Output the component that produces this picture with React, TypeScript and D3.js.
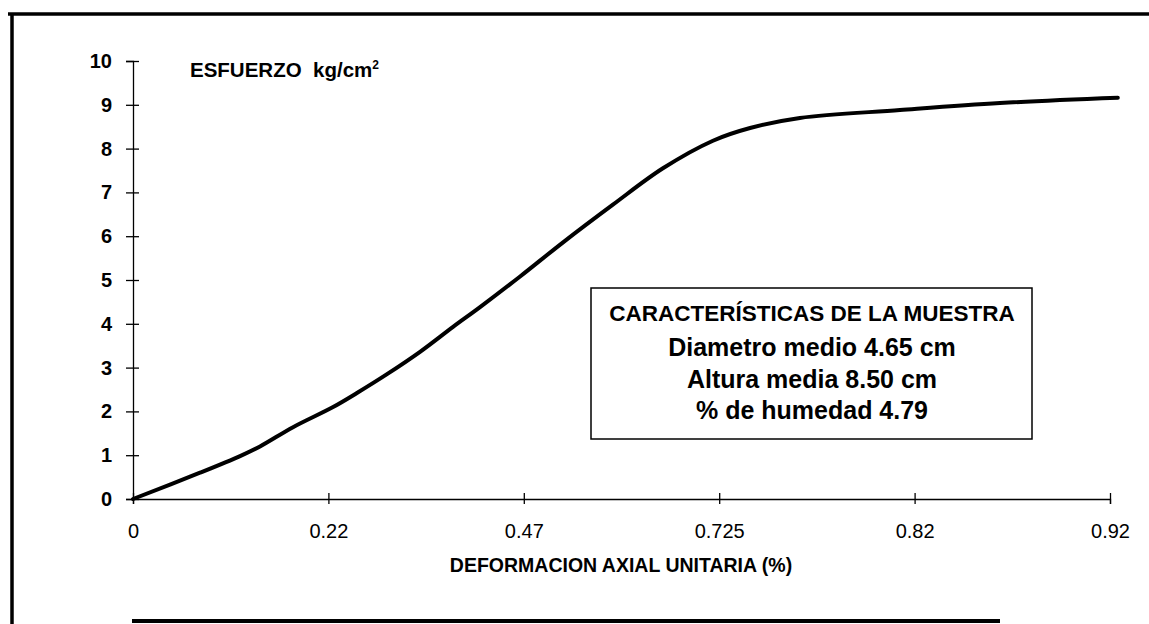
import { useEffect, useRef } from "react";
import * as d3 from "d3";

// category labels on the x axis (evenly spaced, Excel-like category axis)
const strainLabels = ["0", "0.22", "0.47", "0.725", "0.82", "0.92"];
// curve samples: position along the category axis (in category steps) and stress value
const strainPos = [0, 0.343, 0.548, 0.65, 0.819, 1.024, 1.146, 1.3, 1.469, 1.638, 1.776, 1.981, 2.201, 2.456, 2.712, 2.968, 3.158, 3.413, 3.925, 4.437, 5.04];
const stressVals = [0, 0.6, 0.98, 1.2, 1.64, 2.1, 2.42, 2.85, 3.36, 3.93, 4.38, 5.08, 5.86, 6.72, 7.55, 8.18, 8.47, 8.7, 8.88, 9.04, 9.16];
const stressTicks = [0, 1, 2, 3, 4, 5, 6, 7, 8, 9, 10];
const sampleInfo = [
  "CARACTERÍSTICAS DE LA MUESTRA",
  "Diametro medio 4.65 cm",
  "Altura media 8.50 cm",
  "% de humedad 4.79",
];

export default function App() {
  const svgRef = useRef(null);
  const svgWidth = 1149;
  const svgHeight = 624;

  useEffect(() => {
    const svg = d3.select(svgRef.current);
    svg.selectAll("*").remove();
    const font = "'Liberation Sans', Arial, sans-serif";

    const x = d3.scaleLinear().domain([0, strainLabels.length - 1]).range([133, 1110]);
    const y = d3.scaleLinear().domain([0, 10]).range([499, 61]);

    svg.append("rect").attr("width", svgWidth).attr("height", svgHeight).attr("fill", "#fff");

    // scanned frame
    svg.append("line").attr("x1", 8).attr("x2", svgWidth).attr("y1", 14).attr("y2", 14)
      .attr("stroke", "#000").attr("stroke-width", 3.5);
    svg.append("line").attr("x1", 12).attr("x2", 12).attr("y1", 13).attr("y2", svgHeight)
      .attr("stroke", "#000").attr("stroke-width", 3.5);
    svg.append("line").attr("x1", 132).attr("x2", 1000).attr("y1", 621).attr("y2", 621)
      .attr("stroke", "#000").attr("stroke-width", 4);

    // y axis
    const yAxis = d3.axisLeft(y).tickValues(stressTicks).tickSize(7).tickPadding(14);
    const gy = svg.append("g").attr("transform", `translate(${x(0)},0)`).call(yAxis);
    gy.select(".domain").attr("stroke", "#000").attr("stroke-width", 1.3);
    gy.selectAll(".tick line").attr("x1", 6).attr("stroke", "#000").attr("stroke-width", 1.3);
    gy.selectAll(".tick text")
      .attr("font-family", font).attr("font-size", 20).attr("font-weight", "bold").attr("fill", "#000");

    // x axis
    const xAxis = d3.axisBottom(x).tickValues(d3.range(strainLabels.length))
      .tickFormat((d) => strainLabels[d]).tickSize(5).tickPadding(20);
    const gx = svg.append("g").attr("transform", `translate(0,${y(0)})`).call(xAxis);
    gx.select(".domain").attr("stroke", "#000").attr("stroke-width", 1.3);
    gx.selectAll(".tick line").attr("y1", -6).attr("stroke", "#000").attr("stroke-width", 1.3);
    gx.selectAll(".tick text")
      .attr("font-family", font).attr("font-size", 20).attr("fill", "#000");

    // axis titles
    const yTitle = svg.append("text").attr("x", 190).attr("y", 77)
      .attr("font-family", font).attr("font-size", 20.5).attr("font-weight", "bold")
      .attr("xml:space", "preserve");
    yTitle.append("tspan").text("ESFUERZO  kg/cm");
    yTitle.append("tspan").attr("font-size", 12).attr("dy", -8).text("2");

    svg.append("text").attr("x", 621).attr("y", 572).attr("text-anchor", "middle")
      .attr("font-family", font).attr("font-size", 19.5).attr("font-weight", "bold")
      .text("DEFORMACION AXIAL UNITARIA (%)");

    // stress-strain curve
    const line = d3.line()
      .x((d, i) => x(strainPos[i]))
      .y((d) => y(d))
      .curve(d3.curveCatmullRom);
    svg.append("path").datum(stressVals).attr("d", line)
      .attr("fill", "none").attr("stroke", "#000").attr("stroke-width", 4)
      .attr("stroke-linejoin", "round").attr("stroke-linecap", "round");

    // sample characteristics box
    svg.append("rect").attr("x", 591).attr("y", 288).attr("width", 441).attr("height", 151)
      .attr("fill", "#fff").attr("stroke", "#000").attr("stroke-width", 1.5);
    const lineY = [313, 347, 379, 410];
    svg.append("g").selectAll("text").data(sampleInfo).join("text")
      .attr("x", 812).attr("y", (d, i) => lineY[i]).attr("dy", "0.35em")
      .attr("text-anchor", "middle").attr("font-family", font).attr("font-weight", "bold")
      .attr("font-size", (d, i) => (i === 0 ? 22.5 : 25))
      .text((d) => d);
  }, []);

  return (
    <svg ref={svgRef} width={svgWidth} height={svgHeight}
      style={{ position: "absolute", left: 0, top: 0, display: "block" }} />
  );
}
